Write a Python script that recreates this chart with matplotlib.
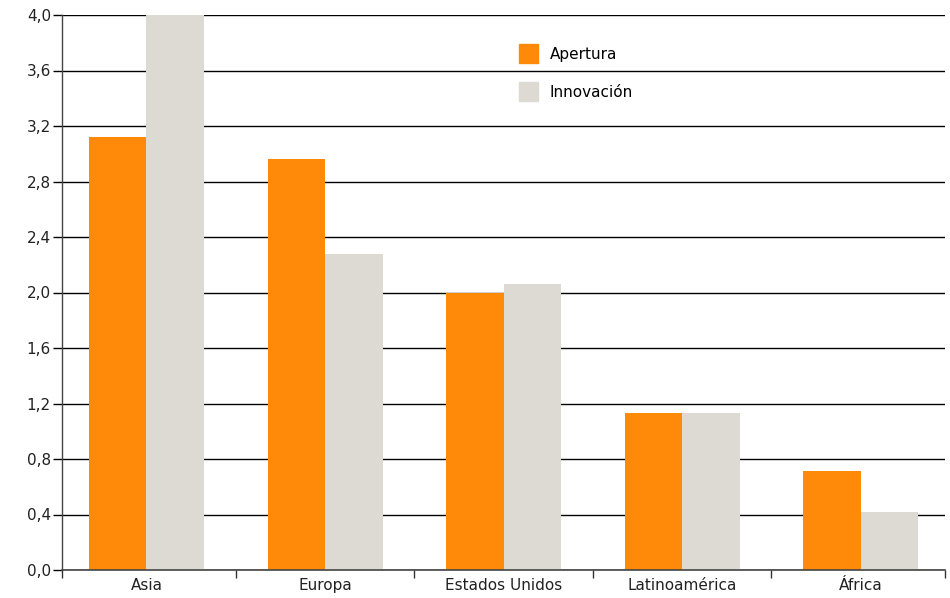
# Apertura vs. innovación por región, barras agrupadas

import matplotlib.pyplot as plt
import numpy as np
from matplotlib.patches import Patch

regions = ['Asia', 'Europa', 'Estados Unidos', 'Latinoamérica', 'África']
apertura = [3.12, 2.96, 2.00, 1.13, 0.71]
innovacion = [4.00, 2.28, 2.06, 1.13, 0.42]
y_ticks = [0.0, 0.4, 0.8, 1.2, 1.6, 2.0, 2.4, 2.8, 3.2, 3.6, 4.0]

orange = '#FF8A0A'
grey = '#DDDAD3'
text_color = '#222222'

plt.rcParams['font.family'] = 'DejaVu Sans'
plt.rcParams['font.size'] = 11

fig = plt.figure(figsize=(9.5, 5.98), dpi=100)
ax = fig.add_axes([62 / 950, 28 / 598, 883 / 950, 555 / 598])

x = np.arange(len(regions))
width = 0.322
ax.bar(x - width / 2, apertura, width, color=orange, zorder=2)
ax.bar(x + width / 2, innovacion, width, color=grey, zorder=2)

x_left, x_right = -0.473, 4.472
ax.set_xlim(x_left, x_right)
ax.set_ylim(0, 4.0)

# y axis: comma decimals, black grid behind the bars
ax.set_yticks(y_ticks)
ax.set_yticklabels([f'{v:.1f}'.replace('.', ',') for v in y_ticks])
ax.yaxis.grid(True, color='black', linewidth=1, zorder=0)
ax.tick_params(axis='y', length=6.5, width=1, color='black', pad=1.5, labelcolor=text_color)

# x axis: labels under the groups, tick marks between them
ax.set_xticks(x)
ax.set_xticklabels(regions, color=text_color)
ax.set_xticks([x_left, 0.5, 1.5, 2.5, 3.5, x_right], minor=True)
ax.tick_params(axis='x', which='major', length=0, pad=6)
ax.tick_params(axis='x', which='minor', length=6, width=1, color='#333333')

for side in ['top', 'right']:
    ax.spines[side].set_visible(False)
ax.spines['left'].set_color('#444444')
ax.spines['bottom'].set_color('#444444')
ax.spines['left'].set_linewidth(1)
ax.spines['bottom'].set_linewidth(1.2)
ax.set_axisbelow(True)

handles = [Patch(color=orange, label='Apertura'), Patch(color=grey, label='Innovación')]
ax.legend(handles=handles, loc='upper left', bbox_to_anchor=(0.5025, 0.972),
          frameon=False, handlelength=1.24, handleheight=1.54,
          handletextpad=0.75, labelspacing=1.25, fontsize=11)

fig.savefig('out.png', dpi=100)
